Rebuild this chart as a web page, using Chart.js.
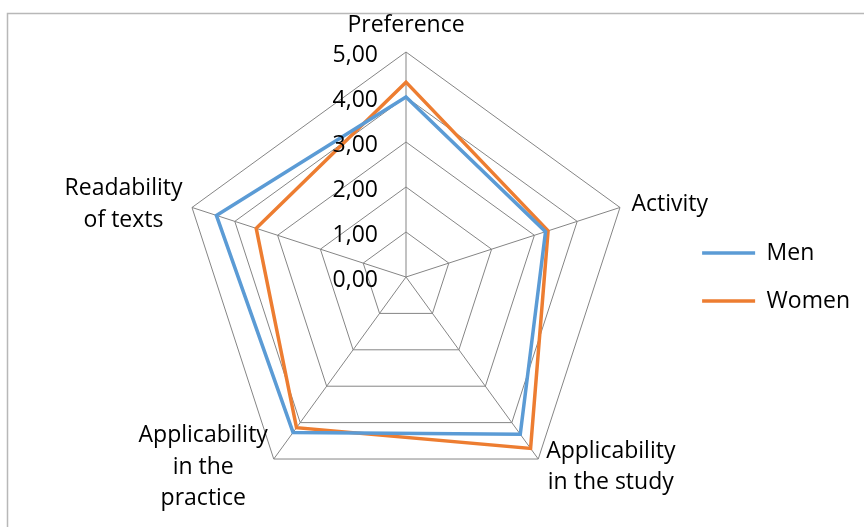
<!DOCTYPE html>
<html>
<head>
<meta charset="utf-8">
<script src="https://cdn.jsdelivr.net/npm/chart.js@4/dist/chart.umd.min.js"></script>
<style>
  html, body { margin: 0; padding: 0; background: #ffffff; }
  #wrap { width: 864px; height: 527px; position: relative; }
</style>
</head>
<body>
<div id="wrap"><canvas id="chartRadar"></canvas></div>
<script>
// Data dibaca dari gambar referensi
const kategori = ['Preference', 'Activity', ['Applicability', 'in the study'], ['Applicability', 'in the', 'practice'], ['Readability', 'of texts']];
const nilaiMen = [4.00, 3.26, 4.32, 4.27, 4.43];
const nilaiWomen = [4.33, 3.32, 4.71, 4.14, 3.50];
const labelTick = ['0,00', '1,00', '2,00', '3,00', '4,00', '5,00'];

const FONT = '"Open Sans", "DejaVu Sans", sans-serif';
const FONT_SIZE = 23;
const LINE_H = 31.5;

// Bingkai abu-abu tipis (chart area Excel)
const bingkaiPlugin = {
    id: 'bingkai',
    afterDraw(chart) {
        const ctx = chart.ctx;
        ctx.save();
        ctx.strokeStyle = '#b8b8b8';
        ctx.lineWidth = 1.5;
        ctx.beginPath();
        ctx.moveTo(7.5, chart.height + 5);
        ctx.lineTo(7.5, 13.5);
        ctx.lineTo(chart.width + 5, 13.5);
        ctx.stroke();
        ctx.restore();
    }
};

// Label sumbu (tick) di kiri garis vertikal + label kategori ala Excel
const labelPlugin = {
    id: 'labelRadar',
    afterDraw(chart) {
        const scale = chart.scales.r;
        const ctx = chart.ctx;
        ctx.save();
        ctx.fillStyle = '#000000';
        ctx.font = `${FONT_SIZE}px ${FONT}`;

        // tick label
        ctx.textAlign = 'right';
        ctx.textBaseline = 'alphabetic';
        labelTick.forEach((t, i) => {
            const d = scale.getDistanceFromCenterForValue(i);
            ctx.fillText(t, scale.xCenter - 28, scale.yCenter - d + 10);
        });

        // label kategori
        const R = scale.drawingArea;
        kategori.forEach((lbl, i) => {
            const lines = Array.isArray(lbl) ? lbl : [lbl];
            const p = scale.getPointPosition(i, R + 10);
            const dx = p.x - scale.xCenter;
            const dy = p.y - scale.yCenter;
            const blokW = Math.max(...lines.map(l => ctx.measureText(l).width));
            const blokH = lines.length * LINE_H;
            let kiri;
            if (Math.abs(dx) < 5) kiri = p.x - blokW / 2;
            else if (dx > 0) kiri = p.x + 2;
            else kiri = p.x - blokW;
            let tengahY = p.y;
            if (dy < 0 && Math.abs(dx) < 5) tengahY = p.y - 17;
            const atas = tengahY - blokH / 2;
            ctx.textAlign = 'center';
            ctx.textBaseline = 'middle';
            lines.forEach((l, k) => {
                ctx.fillText(l, kiri + blokW / 2, atas + LINE_H * k + LINE_H / 2);
            });
        });
        ctx.restore();
    }
};

const ctxR = document.getElementById('chartRadar').getContext('2d');
const chartRadar = new Chart(ctxR, {
    type: 'radar',
    data: {
        labels: kategori,
        datasets: [
            {
                label: 'Men',
                data: nilaiMen,
                borderColor: '#5B9BD5',
                backgroundColor: 'rgba(0,0,0,0)',
                borderWidth: 3.5,
                pointRadius: 0,
                pointHoverRadius: 0,
                fill: false,
                tension: 0
            },
            {
                label: 'Women',
                data: nilaiWomen,
                borderColor: '#ED7D31',
                backgroundColor: 'rgba(0,0,0,0)',
                borderWidth: 3.5,
                pointRadius: 0,
                pointHoverRadius: 0,
                fill: false,
                tension: 0
            }
        ]
    },
    options: {
        responsive: true,
        maintainAspectRatio: false,
        animation: false,
        layout: {
            padding: { left: 136, right: 4, top: 52, bottom: 25 }
        },
        scales: {
            r: {
                min: 0,
                max: 5,
                ticks: { stepSize: 1, display: false },
                grid: { color: '#858585', lineWidth: 1 },
                angleLines: { color: '#858585', lineWidth: 1 },
                pointLabels: { display: false }
            }
        },
        plugins: {
            legend: {
                position: 'right',
                labels: {
                    usePointStyle: true,
                    pointStyle: 'line',
                    pointStyleWidth: 53,
                    padding: 25,
                    color: '#000000',
                    font: { family: FONT, size: FONT_SIZE }
                }
            },
            tooltip: { enabled: false }
        }
    },
    plugins: [bingkaiPlugin, labelPlugin]
});
</script>
</body>
</html>
